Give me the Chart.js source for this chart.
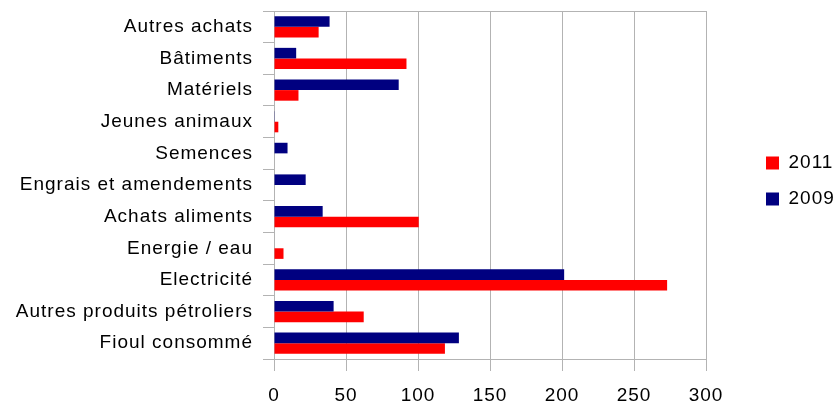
<!DOCTYPE html>
<html><head><meta charset="utf-8">
<script src="https://cdn.jsdelivr.net/npm/chart.js@4"></script>
<style>html,body{margin:0;padding:0;background:#fff}#wrap{width:838px;height:401px}</style>
</head><body><div id="wrap"><canvas id="c" width="838" height="401"></canvas></div>
<script>
const categories = ["Autres achats","Bâtiments","Matériels","Jeunes animaux","Semences","Engrais et amendements","Achats aliments","Energie / eau","Electricité","Autres produits pétroliers","Fioul consommé"];
const values2009 = [38.6, 15.4, 86.6, 0.5, 9.4, 22, 33.8, 0, 201.5, 41.4, 128.4];
const values2011 = [31, 92, 17, 3, 0, 0, 100.5, 6.6, 273, 62.3, 118.7];
const xTicks = [0, 50, 100, 150, 200, 250, 300];

const GRID = '#b3b3b3';
const FONT = {family: '"Liberation Sans", Arial, sans-serif', size: 19};
Chart.defaults.color = '#000';

const spacing = {
  id: 'spacing',
  beforeInit(chart) { chart.ctx.letterSpacing = '1px'; },
  beforeLayout(chart) { chart.ctx.letterSpacing = '1px'; },
  afterLayout(chart) {
    if (chart.legend) { chart.legend.top -= 4; chart.legend.bottom -= 4; }
  },
  beforeDraw(chart) { chart.ctx.letterSpacing = '1px'; }
};

new Chart(document.getElementById('c'), {
  type: 'bar',
  plugins: [spacing],
  data: {
    labels: categories,
    datasets: [
      {label: '2009', data: values2009, backgroundColor: '#000080', borderWidth: 0},
      {label: '2011', data: values2011, backgroundColor: '#ff0000', borderWidth: 0}
    ]
  },
  options: {
    indexAxis: 'y',
    responsive: false,
    animation: false,
    devicePixelRatio: 1,
    categoryPercentage: 0.67,
    barPercentage: 1,
    layout: {padding: {left: 0, right: 0, top: 0, bottom: 0}},
    plugins: {
      legend: {
        position: 'right',
        reverse: true,
        fullSize: false,
        maxWidth: 89,
        labels: {font: FONT, boxWidth: 13, boxHeight: 13, padding: 17, color: '#000'}
      },
      tooltip: {enabled: false}
    },
    scales: {
      x: {
        type: 'linear', position: 'bottom', min: 0, max: 300,
        afterBuildTicks: s => { s.ticks = xTicks.map(v => ({value: v})); },
        ticks: {font: FONT, color: '#000', padding: 13},
        grid: {color: GRID, lineWidth: 1, tickLength: 12},
        border: {color: GRID, width: 1},
        afterFit: s => { s.height = 42; s.paddingLeft = 0; s.paddingRight = 0; }
      },
      xTop: {
        type: 'linear', position: 'top', min: 0, max: 300,
        ticks: {display: false},
        grid: {drawOnChartArea: false, drawTicks: false},
        border: {display: true, color: GRID, width: 1},
        afterFit: s => { s.height = 11; s.paddingLeft = 0; s.paddingRight = 0; }
      },
      y: {
        ticks: {font: FONT, color: '#000', padding: 10},
        grid: {drawOnChartArea: false, color: GRID, lineWidth: 1, tickLength: 11, offset: true},
        border: {color: GRID, width: 1},
        afterFit: s => { s.width = 274; s.paddingTop = 0; s.paddingBottom = 0; }
      },
      yGap: {
        type: 'category', position: 'right',
        ticks: {display: false},
        grid: {display: false},
        border: {display: false},
        afterFit: s => { s.width = 43; s.paddingTop = 0; s.paddingBottom = 0; }
      }
    }
  }
});
</script></body></html>
